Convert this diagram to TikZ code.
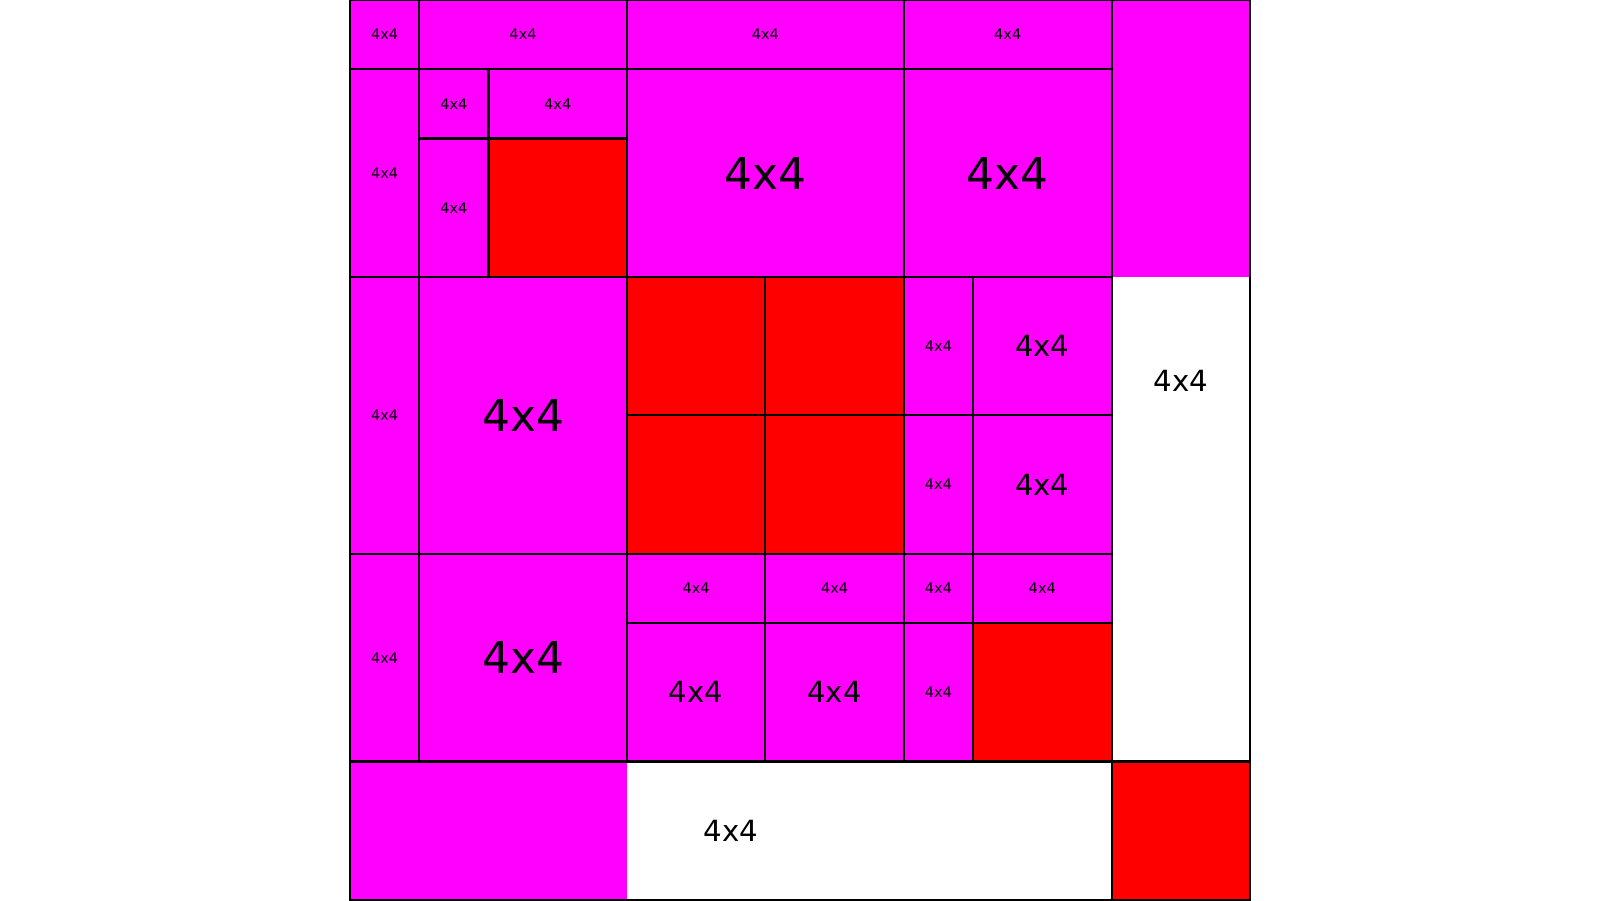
\documentclass[tikz,border=0pt]{standalone}
\usepackage{fontspec}
\setmainfont{DejaVu Sans}
\usepackage{xcolor}
\definecolor{qmagenta}{HTML}{FF00FF}
\definecolor{qred}{HTML}{FF0000}

\begin{document}
\begin{tikzpicture}[
  cell/.style={draw=black, line width=0.6pt},
  leaf/.style={cell, fill=qmagenta},
  full/.style={cell, fill=qred},
  lbl/.style={inner sep=0pt, text=black}]
  \useasboundingbox (0,0) rectangle (16,9);
  \begin{scope}[shift={(3.5,9)}, x=0.692308cm, y=-0.692308cm]
    % partly filled blocks
    \fill[qmagenta] (11,0) rectangle (13,4);
    \fill[qmagenta] (0,11) rectangle (4,13);
    \foreach \xa/\ya/\xb/\yb/\nm in {11/0/13/11/rc, 0/11/11/13/bc}{
      \draw[cell] (\xa,\ya) rectangle (\xb,\yb);
      \node[lbl, font=\fontsize{8.3}{8.3}\selectfont] (\nm)
        at ({(\xa+\xb)/2},{(\ya+\yb)/2}) {4x4};
    }
    % labelled leaves
    \foreach \xa/\ya/\xb/\yb/\s [count=\i] in {
      0/0/1/1/4.15, 1/0/4/1/4.15, 4/0/8/1/4.15, 8/0/11/1/4.15,
      0/1/1/4/4.15, 1/1/2/2/4.15, 2/1/4/2/4.15, 1/2/2/4/4.15,
      4/1/8/4/12.5, 8/1/11/4/12.5,
      0/4/1/8/4.15, 1/4/4/8/12.5,
      8/4/9/6/4.15, 9/4/11/6/8.3, 8/6/9/8/4.15, 9/6/11/8/8.3,
      0/8/1/11/4.15, 1/8/4/11/12.5,
      4/8/6/9/4.15, 6/8/8/9/4.15, 8/8/9/9/4.15, 9/8/11/9/4.15,
      4/9/6/11/8.3, 6/9/8/11/8.3, 8/9/9/11/4.15}{
      \draw[leaf] (\xa,\ya) rectangle (\xb,\yb);
      \node[lbl, font=\fontsize{\s}{\s}\selectfont] (c\i)
        at ({(\xa+\xb)/2},{(\ya+\yb)/2}) {4x4};
    }
    % full blocks
    \foreach \xa/\ya/\xb/\yb in {2/2/4/4, 4/4/6/6, 6/4/8/6, 4/6/6/8,
      6/6/8/8, 9/9/11/11, 11/11/13/13}
      \draw[full] (\xa,\ya) rectangle (\xb,\yb);
  \end{scope}
\end{tikzpicture}
\end{document}
